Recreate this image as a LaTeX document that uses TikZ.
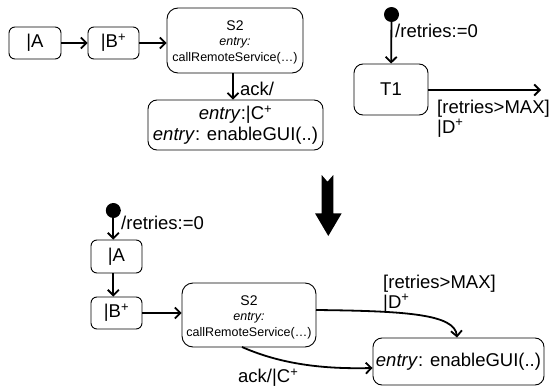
\documentclass[tikz,border=0pt]{standalone}
\usepackage{fontspec}
\setmainfont{Liberation Sans}
\usetikzlibrary{arrows.meta}
\tikzset{
  stbox/.style={draw, line width=0.9pt, fill=white, inner sep=0pt, align=center,
    font=\fontsize{18.5}{21}\selectfont},
  smallbox/.style={stbox, rounded corners=6pt},
  bigbox/.style={stbox, rounded corners=11pt},
  smalltxt/.style={font=\fontsize{12.5}{15.5}\selectfont},
  lbl/.style={inner sep=0pt, align=left, font=\fontsize{18.5}{19.5}\selectfont},
  initdot/.style={circle, fill=black, inner sep=0pt, minimum size=15pt},
  trans/.style={line width=1.8pt, -{Straight Barb[length=5.5pt,width=11pt,line width=1.8pt]}},
}
\newcommand{\plusup}{\textsuperscript{+}}
\begin{document}
\begin{tikzpicture}[x=1pt,y=-1pt]
\useasboundingbox (0,0) rectangle (552,388);

% ---------- upper part: three separate fragments ----------
\node[smallbox, minimum width=52pt, minimum height=32pt] (a1) at (35,43) {|A};
\node[smallbox, minimum width=51pt, minimum height=32pt] (b1) at (113.5,43) {|B\plusup};
\node[bigbox, minimum width=136pt, minimum height=65pt] (s2a) at (235,40.5) {};
\node[smalltxt, align=center] at (235,42) {{\fontsize{14}{15.5}\selectfont S2}\\\textit{entry:}\\callRemoteService(…)};
\node[bigbox, rounded corners=9pt, minimum width=175pt, minimum height=50pt] (e1) at (235.5,125)
      {\textit{entry}:|C\plusup\\\textit{entry}: enableGUI(..)};

\draw[trans] (a1) -- (b1);
\draw[trans] (b1) -- (s2a.west |- b1);
\draw[trans] (s2a.south -| 233,0) -- (e1.north -| 233,0);
\node[lbl, anchor=west] at (240,89) {ack/};

\node[initdot] (d1) at (391.5,14.5) {};
\node[bigbox, rounded corners=9pt, minimum width=74pt, minimum height=51pt] (t1) at (391,89.5) {T1};
\coordinate (x1) at (541,90);
\draw[trans] (d1) -- (t1);
\node[lbl, anchor=west] at (395,31) {/retries:=0};
\draw[trans] (t1.east |- x1) -- (x1);
\node[lbl, anchor=north west] at (437,100) {[retries>MAX]\\|D\plusup};

% ---------- block arrow between the two parts ----------
\fill (321.7,175) -- (327.5,181.7) -- (333.3,175) -- (333.3,213.3) -- (341.7,213.3)
  -- (328.3,236) -- (315,213.3) -- (321.7,213.3) -- cycle;

% ---------- lower part: combined machine ----------
\node[initdot] (d2) at (113.3,210.5) {};
\node[lbl, anchor=west] at (121,223) {/retries:=0};
\node[smallbox, minimum width=51pt, minimum height=33pt] (a2) at (116.5,256.5) {|A};
\node[smallbox, minimum width=51pt, minimum height=32pt] (b2) at (116.5,313) {|B\plusup};
\node[bigbox, minimum width=134pt, minimum height=64pt] (s2b) at (249,315) {};
\node[smalltxt, align=center] at (249,317) {{\fontsize{14}{15.5}\selectfont S2}\\\textit{entry:}\\callRemoteService(…)};
\node[bigbox, rounded corners=9pt, minimum width=171pt, minimum height=47pt] (g) at (458.5,361.5)
      {\textit{entry}: enableGUI(..)};

\draw[trans] (d2 |- d2.south) -- (a2.north -| d2);
\draw[trans] (a2.south -| d2) -- (b2.north -| d2);
\draw[trans] (b2) -- (s2b.west |- b2);

\coordinate (c1) at (316,310);
\draw[trans] (c1) .. controls (405,311) and (455,314) .. (g.north -| 457,0);
\node[lbl, anchor=north west] at (383,275) {[retries>MAX]\\|D\plusup};

\coordinate (c2) at (242,347);
\draw[trans] (c2) .. controls (285,366) and (330,369) .. (g.west |- 0,368);
\node[lbl, anchor=west] at (238,378) {ack/|C\plusup};
\end{tikzpicture}
\end{document}
